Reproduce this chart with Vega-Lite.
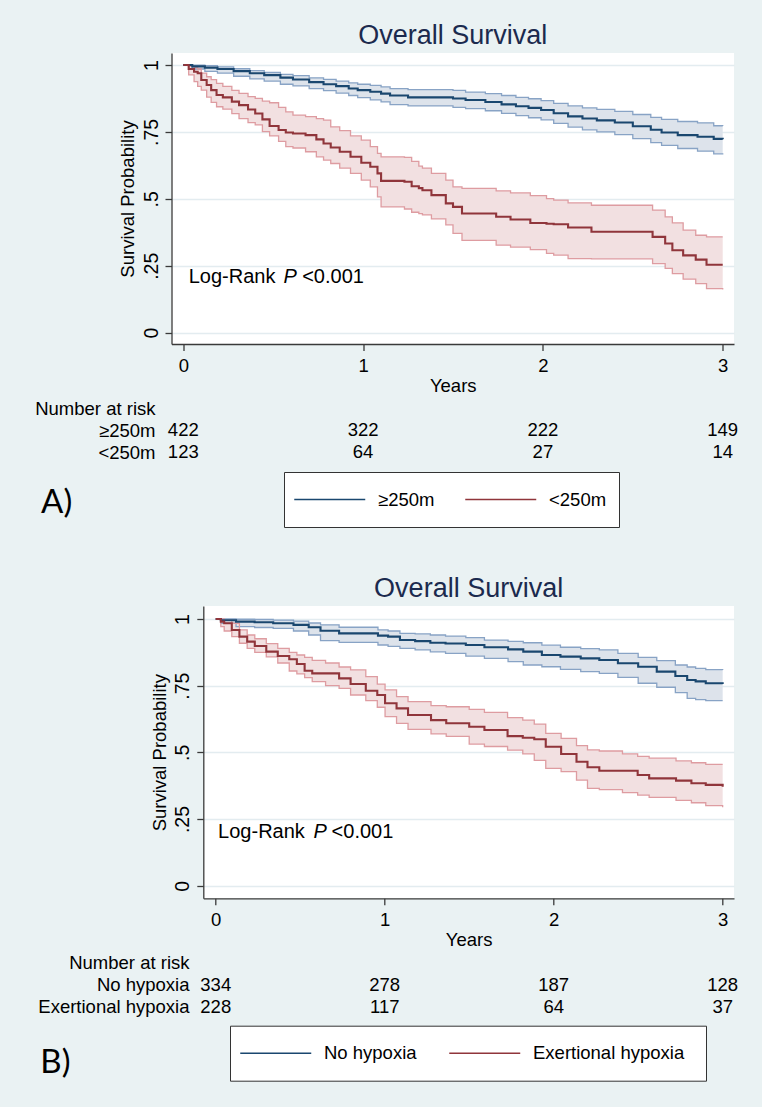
{
  "$schema": "https://vega.github.io/schema/vega-lite/v6.json",
  "background": "#EAF2F3",
  "autosize": {"type": "none"},
  "padding": {"left": 171.5, "top": 53, "right": 590.5, "bottom": 1054},
  "config": {
    "font": "Liberation Sans",
    "axis": {"labelFont": "Liberation Sans", "titleFont": "Liberation Sans", "labelColor": "black", "titleColor": "black", "titleFontWeight": "normal", "labelFontSize": 18.5, "titleFontSize": 18.5, "domainColor": "#3a3a3a", "tickColor": "#3a3a3a", "domainWidth": 1.3, "tickWidth": 1.3, "labelFlush": false, "labelOverlap": false},
    "legend": {"labelFont": "Liberation Sans", "labelFontSize": 18.5, "labelColor": "black"},
    "title": {"font": "Liberation Sans", "fontWeight": "normal", "fontSize": 27, "color": "#1b2a4e"}
  },
  "datasets": {
    "kmA": [
      {"g":"≥250m","t":0,"s":1,"lo":1,"hi":1},{"g":"≥250m","t":0.05,"s":0.995,"lo":0.985,"hi":0.999},{"g":"≥250m","t":0.12,"s":0.99,"lo":0.976,"hi":0.998},{"g":"≥250m","t":0.19,"s":0.985,"lo":0.97,"hi":0.993},{"g":"≥250m","t":0.28,"s":0.977,"lo":0.958,"hi":0.986},{"g":"≥250m","t":0.37,"s":0.969,"lo":0.948,"hi":0.979},{"g":"≥250m","t":0.45,"s":0.962,"lo":0.94,"hi":0.972},{"g":"≥250m","t":0.54,"s":0.953,"lo":0.928,"hi":0.965},{"g":"≥250m","t":0.61,"s":0.946,"lo":0.922,"hi":0.96},{"g":"≥250m","t":0.7,"s":0.936,"lo":0.912,"hi":0.952},{"g":"≥250m","t":0.78,"s":0.928,"lo":0.904,"hi":0.946},{"g":"≥250m","t":0.85,"s":0.921,"lo":0.895,"hi":0.94},{"g":"≥250m","t":0.92,"s":0.912,"lo":0.886,"hi":0.933},{"g":"≥250m","t":0.97,"s":0.906,"lo":0.878,"hi":0.928},{"g":"≥250m","t":1.04,"s":0.9,"lo":0.87,"hi":0.924},{"g":"≥250m","t":1.1,"s":0.893,"lo":0.862,"hi":0.918},{"g":"≥250m","t":1.15,"s":0.886,"lo":0.852,"hi":0.912},{"g":"≥250m","t":1.25,"s":0.879,"lo":0.847,"hi":0.908},{"g":"≥250m","t":1.5,"s":0.875,"lo":0.842,"hi":0.905},{"g":"≥250m","t":1.57,"s":0.869,"lo":0.837,"hi":0.899},{"g":"≥250m","t":1.68,"s":0.862,"lo":0.829,"hi":0.893},{"g":"≥250m","t":1.77,"s":0.853,"lo":0.819,"hi":0.886},{"g":"≥250m","t":1.85,"s":0.846,"lo":0.811,"hi":0.879},{"g":"≥250m","t":1.92,"s":0.84,"lo":0.803,"hi":0.874},{"g":"≥250m","t":1.99,"s":0.832,"lo":0.795,"hi":0.867},{"g":"≥250m","t":2.06,"s":0.82,"lo":0.782,"hi":0.857},{"g":"≥250m","t":2.14,"s":0.808,"lo":0.768,"hi":0.847},{"g":"≥250m","t":2.22,"s":0.8,"lo":0.758,"hi":0.84},{"g":"≥250m","t":2.3,"s":0.793,"lo":0.75,"hi":0.834},{"g":"≥250m","t":2.4,"s":0.785,"lo":0.74,"hi":0.827},{"g":"≥250m","t":2.5,"s":0.771,"lo":0.725,"hi":0.815},{"g":"≥250m","t":2.6,"s":0.758,"lo":0.71,"hi":0.804},{"g":"≥250m","t":2.66,"s":0.748,"lo":0.7,"hi":0.797},{"g":"≥250m","t":2.75,"s":0.738,"lo":0.688,"hi":0.789},{"g":"≥250m","t":2.86,"s":0.732,"lo":0.678,"hi":0.784},{"g":"≥250m","t":2.95,"s":0.724,"lo":0.668,"hi":0.773},{"g":"≥250m","t":3,"s":0.723,"lo":0.666,"hi":0.772},
      {"g":"<250m","t":0,"s":1,"lo":1,"hi":1},{"g":"<250m","t":0.03,"s":0.985,"lo":0.963,"hi":0.995},{"g":"<250m","t":0.06,"s":0.975,"lo":0.938,"hi":0.99},{"g":"<250m","t":0.08,"s":0.969,"lo":0.92,"hi":0.985},{"g":"<250m","t":0.1,"s":0.944,"lo":0.906,"hi":0.97},{"g":"<250m","t":0.13,"s":0.925,"lo":0.88,"hi":0.956},{"g":"<250m","t":0.155,"s":0.906,"lo":0.86,"hi":0.945},{"g":"<250m","t":0.185,"s":0.888,"lo":0.844,"hi":0.931},{"g":"<250m","t":0.22,"s":0.879,"lo":0.835,"hi":0.92},{"g":"<250m","t":0.27,"s":0.863,"lo":0.818,"hi":0.905},{"g":"<250m","t":0.31,"s":0.85,"lo":0.8,"hi":0.894},{"g":"<250m","t":0.36,"s":0.834,"lo":0.785,"hi":0.882},{"g":"<250m","t":0.4,"s":0.819,"lo":0.776,"hi":0.875},{"g":"<250m","t":0.44,"s":0.797,"lo":0.751,"hi":0.865},{"g":"<250m","t":0.48,"s":0.772,"lo":0.735,"hi":0.859},{"g":"<250m","t":0.53,"s":0.757,"lo":0.715,"hi":0.842},{"g":"<250m","t":0.57,"s":0.748,"lo":0.695,"hi":0.825},{"g":"<250m","t":0.61,"s":0.744,"lo":0.69,"hi":0.813},{"g":"<250m","t":0.68,"s":0.738,"lo":0.676,"hi":0.807},{"g":"<250m","t":0.74,"s":0.722,"lo":0.657,"hi":0.8},{"g":"<250m","t":0.78,"s":0.707,"lo":0.645,"hi":0.794},{"g":"<250m","t":0.82,"s":0.692,"lo":0.632,"hi":0.769},{"g":"<250m","t":0.87,"s":0.676,"lo":0.615,"hi":0.755},{"g":"<250m","t":0.93,"s":0.657,"lo":0.595,"hi":0.735},{"g":"<250m","t":0.99,"s":0.635,"lo":0.57,"hi":0.719},{"g":"<250m","t":1.04,"s":0.62,"lo":0.545,"hi":0.695},{"g":"<250m","t":1.08,"s":0.595,"lo":0.507,"hi":0.67},{"g":"<250m","t":1.1,"s":0.567,"lo":0.47,"hi":0.657},{"g":"<250m","t":1.23,"s":0.564,"lo":0.462,"hi":0.655},{"g":"<250m","t":1.27,"s":0.547,"lo":0.45,"hi":0.64},{"g":"<250m","t":1.31,"s":0.54,"lo":0.445,"hi":0.622},{"g":"<250m","t":1.33,"s":0.532,"lo":0.44,"hi":0.615},{"g":"<250m","t":1.38,"s":0.514,"lo":0.425,"hi":0.595},{"g":"<250m","t":1.46,"s":0.483,"lo":0.403,"hi":0.57},{"g":"<250m","t":1.5,"s":0.47,"lo":0.371,"hi":0.545},{"g":"<250m","t":1.55,"s":0.445,"lo":0.345,"hi":0.539},{"g":"<250m","t":1.74,"s":0.433,"lo":0.327,"hi":0.53},{"g":"<250m","t":1.82,"s":0.423,"lo":0.32,"hi":0.522},{"g":"<250m","t":1.93,"s":0.41,"lo":0.31,"hi":0.512},{"g":"<250m","t":2.02,"s":0.407,"lo":0.296,"hi":0.501},{"g":"<250m","t":2.06,"s":0.405,"lo":0.29,"hi":0.495},{"g":"<250m","t":2.14,"s":0.393,"lo":0.277,"hi":0.485},{"g":"<250m","t":2.27,"s":0.377,"lo":0.276,"hi":0.476},{"g":"<250m","t":2.61,"s":0.358,"lo":0.258,"hi":0.458},{"g":"<250m","t":2.68,"s":0.333,"lo":0.24,"hi":0.433},{"g":"<250m","t":2.72,"s":0.308,"lo":0.221,"hi":0.41},{"g":"<250m","t":2.78,"s":0.289,"lo":0.2,"hi":0.383},{"g":"<250m","t":2.85,"s":0.273,"lo":0.183,"hi":0.364},{"g":"<250m","t":2.91,"s":0.254,"lo":0.165,"hi":0.358},{"g":"<250m","t":3,"s":0.254,"lo":0.161,"hi":0.358}
    ],
    "kmB": [
      {"g":"No hypoxia","t":0,"s":1,"lo":1,"hi":1},{"g":"No hypoxia","t":0.03,"s":0.995,"lo":0.984,"hi":1},{"g":"No hypoxia","t":0.12,"s":0.99,"lo":0.971,"hi":0.999},{"g":"No hypoxia","t":0.23,"s":0.988,"lo":0.968,"hi":0.998},{"g":"No hypoxia","t":0.34,"s":0.984,"lo":0.965,"hi":0.996},{"g":"No hypoxia","t":0.46,"s":0.978,"lo":0.955,"hi":0.992},{"g":"No hypoxia","t":0.55,"s":0.969,"lo":0.94,"hi":0.985},{"g":"No hypoxia","t":0.62,"s":0.956,"lo":0.919,"hi":0.978},{"g":"No hypoxia","t":0.73,"s":0.946,"lo":0.912,"hi":0.969},{"g":"No hypoxia","t":0.96,"s":0.9375,"lo":0.9025,"hi":0.959},{"g":"No hypoxia","t":1.02,"s":0.934,"lo":0.897,"hi":0.955},{"g":"No hypoxia","t":1.09,"s":0.921,"lo":0.89,"hi":0.946},{"g":"No hypoxia","t":1.18,"s":0.917,"lo":0.884,"hi":0.944},{"g":"No hypoxia","t":1.27,"s":0.911,"lo":0.877,"hi":0.94},{"g":"No hypoxia","t":1.36,"s":0.908,"lo":0.871,"hi":0.936},{"g":"No hypoxia","t":1.48,"s":0.9025,"lo":0.861,"hi":0.93},{"g":"No hypoxia","t":1.59,"s":0.894,"lo":0.8525,"hi":0.921},{"g":"No hypoxia","t":1.73,"s":0.886,"lo":0.84,"hi":0.916},{"g":"No hypoxia","t":1.82,"s":0.8775,"lo":0.8275,"hi":0.911},{"g":"No hypoxia","t":1.93,"s":0.865,"lo":0.821,"hi":0.902},{"g":"No hypoxia","t":2.04,"s":0.859,"lo":0.811,"hi":0.894},{"g":"No hypoxia","t":2.16,"s":0.8525,"lo":0.803,"hi":0.889},{"g":"No hypoxia","t":2.27,"s":0.846,"lo":0.796,"hi":0.884},{"g":"No hypoxia","t":2.38,"s":0.834,"lo":0.781,"hi":0.871},{"g":"No hypoxia","t":2.5,"s":0.821,"lo":0.759,"hi":0.856},{"g":"No hypoxia","t":2.61,"s":0.8025,"lo":0.744,"hi":0.844},{"g":"No hypoxia","t":2.72,"s":0.786,"lo":0.724,"hi":0.8275},{"g":"No hypoxia","t":2.79,"s":0.771,"lo":0.7025,"hi":0.82},{"g":"No hypoxia","t":2.84,"s":0.766,"lo":0.698,"hi":0.815},{"g":"No hypoxia","t":2.9,"s":0.759,"lo":0.694,"hi":0.81},{"g":"No hypoxia","t":3,"s":0.756,"lo":0.694,"hi":0.809},
      {"g":"Exertional hypoxia","t":0,"s":1,"lo":1,"hi":1},{"g":"Exertional hypoxia","t":0.03,"s":0.99,"lo":0.971,"hi":1},{"g":"Exertional hypoxia","t":0.05,"s":0.984,"lo":0.955,"hi":0.995},{"g":"Exertional hypoxia","t":0.095,"s":0.959,"lo":0.934,"hi":0.984},{"g":"Exertional hypoxia","t":0.14,"s":0.934,"lo":0.909,"hi":0.959},{"g":"Exertional hypoxia","t":0.186,"s":0.915,"lo":0.89,"hi":0.94},{"g":"Exertional hypoxia","t":0.231,"s":0.899,"lo":0.875,"hi":0.926},{"g":"Exertional hypoxia","t":0.299,"s":0.8775,"lo":0.858,"hi":0.908},{"g":"Exertional hypoxia","t":0.367,"s":0.861,"lo":0.835,"hi":0.89},{"g":"Exertional hypoxia","t":0.435,"s":0.849,"lo":0.805,"hi":0.875},{"g":"Exertional hypoxia","t":0.48,"s":0.831,"lo":0.794,"hi":0.865},{"g":"Exertional hypoxia","t":0.526,"s":0.806,"lo":0.78,"hi":0.856},{"g":"Exertional hypoxia","t":0.571,"s":0.796,"lo":0.765,"hi":0.845},{"g":"Exertional hypoxia","t":0.65,"s":0.796,"lo":0.75,"hi":0.835},{"g":"Exertional hypoxia","t":0.73,"s":0.7775,"lo":0.74,"hi":0.82},{"g":"Exertional hypoxia","t":0.798,"s":0.756,"lo":0.715,"hi":0.809},{"g":"Exertional hypoxia","t":0.888,"s":0.731,"lo":0.694,"hi":0.784},{"g":"Exertional hypoxia","t":0.956,"s":0.715,"lo":0.669,"hi":0.756},{"g":"Exertional hypoxia","t":1.002,"s":0.684,"lo":0.634,"hi":0.734},{"g":"Exertional hypoxia","t":1.07,"s":0.665,"lo":0.609,"hi":0.709},{"g":"Exertional hypoxia","t":1.138,"s":0.64,"lo":0.586,"hi":0.69},{"g":"Exertional hypoxia","t":1.274,"s":0.621,"lo":0.569,"hi":0.675},{"g":"Exertional hypoxia","t":1.364,"s":0.609,"lo":0.56,"hi":0.671},{"g":"Exertional hypoxia","t":1.5,"s":0.596,"lo":0.531,"hi":0.661},{"g":"Exertional hypoxia","t":1.59,"s":0.584,"lo":0.522,"hi":0.65},{"g":"Exertional hypoxia","t":1.727,"s":0.561,"lo":0.508,"hi":0.63},{"g":"Exertional hypoxia","t":1.817,"s":0.555,"lo":0.494,"hi":0.621},{"g":"Exertional hypoxia","t":1.885,"s":0.549,"lo":0.47,"hi":0.606},{"g":"Exertional hypoxia","t":1.953,"s":0.521,"lo":0.44,"hi":0.571},{"g":"Exertional hypoxia","t":2.044,"s":0.494,"lo":0.4275,"hi":0.5525},{"g":"Exertional hypoxia","t":2.135,"s":0.465,"lo":0.396,"hi":0.525},{"g":"Exertional hypoxia","t":2.2,"s":0.444,"lo":0.365,"hi":0.509},{"g":"Exertional hypoxia","t":2.27,"s":0.431,"lo":0.36,"hi":0.505},{"g":"Exertional hypoxia","t":2.407,"s":0.431,"lo":0.349,"hi":0.494},{"g":"Exertional hypoxia","t":2.497,"s":0.415,"lo":0.34,"hi":0.485},{"g":"Exertional hypoxia","t":2.565,"s":0.4025,"lo":0.331,"hi":0.478},{"g":"Exertional hypoxia","t":2.724,"s":0.394,"lo":0.32,"hi":0.468},{"g":"Exertional hypoxia","t":2.815,"s":0.384,"lo":0.311,"hi":0.461},{"g":"Exertional hypoxia","t":2.9,"s":0.378,"lo":0.3,"hi":0.455},{"g":"Exertional hypoxia","t":3,"s":0.371,"lo":0.294,"hi":0.455}
    ],
    "riskA": [
      {"g":"≥250m","t":0,"n":422},{"g":"≥250m","t":1,"n":322},{"g":"≥250m","t":2,"n":222},{"g":"≥250m","t":3,"n":149},
      {"g":"<250m","t":0,"n":123},{"g":"<250m","t":1,"n":64},{"g":"<250m","t":2,"n":27},{"g":"<250m","t":3,"n":14}
    ],
    "riskB": [
      {"g":"No hypoxia","t":0,"n":334},{"g":"No hypoxia","t":1,"n":278},{"g":"No hypoxia","t":2,"n":187},{"g":"No hypoxia","t":3,"n":128},
      {"g":"Exertional hypoxia","t":0,"n":228},{"g":"Exertional hypoxia","t":1,"n":117},{"g":"Exertional hypoxia","t":2,"n":64},{"g":"Exertional hypoxia","t":3,"n":37}
    ]
  },
  "bounds": "flush",
  "spacing": 553,
  "resolve": {"scale": {"x": "independent", "y": "independent", "color": "independent"}, "legend": {"color": "independent"}, "axis": {"x": "independent", "y": "independent"}},
  "vconcat": [
    {
      "bounds": "flush",
      "spacing": 53.3,
      "resolve": {"scale": {"x": "independent", "y": "independent", "color": "independent"}},
      "vconcat": [
        {
          "width": 562.5,
          "height": 291,
          "title": {"text": "Overall Survival", "frame": "group", "anchor": "middle", "baseline": "alphabetic", "offset": -18.3},
          "view": {"fill": "white", "stroke": null},
          "data": {"name": "kmA"},
          "layer": [
            {
              "transform": [{"filter": {"field": "g", "equal": "≥250m"}}],
              "mark": {"type": "area", "interpolate": "step-after", "fill": "#dde3eb"},
              "encoding": {
                "x": {"field": "t", "type": "quantitative", "title": "Years",
                  "scale": {"domain": [-0.0656, 3.0628], "nice": false, "zero": false},
                  "axis": {"values": [0, 1, 2, 3], "format": "d", "grid": false, "tickSize": 6.5, "labelBaseline": "alphabetic", "labelPadding": 20.5, "titleBaseline": "alphabetic", "titleY": 47.5}},
                "y": {"field": "hi", "type": "quantitative", "title": "Survival Probability",
                  "scale": {"domain": [-0.0422, 1.0448], "nice": false, "zero": false},
                  "axis": {"values": [0, 0.25, 0.5, 0.75, 1], "labelExpr": "datum.value == 0 ? '0' : datum.value == 1 ? '1' : replace(format(datum.value, '.2~f'), '0.', '.')", "labelFontSize": 19.5, "labelAngle": -90, "labelAlign": "center", "labelBaseline": "alphabetic", "labelPadding": 7.5, "tickSize": 6.5, "grid": true, "gridColor": "#e3ecf0", "gridWidth": 1.5, "titleAngle": -90, "titleAlign": "center", "titleBaseline": "alphabetic", "titleX": -38, "titleY": 145.5}},
                "y2": {"field": "lo"}
              }
            },
            {
              "transform": [{"filter": {"field": "g", "equal": "<250m"}}],
              "mark": {"type": "area", "interpolate": "step-after", "fill": "#f2e0e1"},
              "encoding": {"x": {"field": "t", "type": "quantitative", "title": "Years"}, "y": {"field": "hi", "type": "quantitative", "title": "Survival Probability"}, "y2": {"field": "lo"}}
            },
            {
              "transform": [{"filter": {"field": "g", "equal": "≥250m"}}],
              "mark": {"type": "line", "interpolate": "step-after", "strokeWidth": 1.3, "stroke": "#88a3c5"},
              "encoding": {"x": {"field": "t", "type": "quantitative", "title": "Years"}, "y": {"field": "hi", "type": "quantitative", "title": "Survival Probability"}}
            },
            {
              "transform": [{"filter": {"field": "g", "equal": "≥250m"}}],
              "mark": {"type": "line", "interpolate": "step-after", "strokeWidth": 1.3, "stroke": "#88a3c5"},
              "encoding": {"x": {"field": "t", "type": "quantitative", "title": "Years"}, "y": {"field": "lo", "type": "quantitative", "title": "Survival Probability"}}
            },
            {
              "transform": [{"filter": {"field": "g", "equal": "<250m"}}],
              "mark": {"type": "line", "interpolate": "step-after", "strokeWidth": 1.3, "stroke": "#de9ca1"},
              "encoding": {"x": {"field": "t", "type": "quantitative", "title": "Years"}, "y": {"field": "hi", "type": "quantitative", "title": "Survival Probability"}}
            },
            {
              "transform": [{"filter": {"field": "g", "equal": "<250m"}}],
              "mark": {"type": "line", "interpolate": "step-after", "strokeWidth": 1.3, "stroke": "#de9ca1"},
              "encoding": {"x": {"field": "t", "type": "quantitative", "title": "Years"}, "y": {"field": "lo", "type": "quantitative", "title": "Survival Probability"}}
            },
            {
              "mark": {"type": "line", "interpolate": "step-after", "strokeWidth": 2.1},
              "encoding": {
                "x": {"field": "t", "type": "quantitative", "title": "Years"},
                "y": {"field": "s", "type": "quantitative", "title": "Survival Probability"},
                "color": {"field": "g", "type": "nominal", "scale": {"domain": ["≥250m", "<250m"], "range": ["#1A476F", "#90353B"]},
                  "legend": {"orient": "none", "legendX": 112.5, "legendY": 419, "direction": "horizontal", "title": ".", "titleOrient": "right", "titleColor": "white", "titleFontSize": 6, "titlePadding": 1.5, "fillColor": "white", "strokeColor": "#333333", "padding": 9, "clipHeight": 37, "symbolType": "M-1,0H3", "symbolSize": 1260, "symbolStrokeWidth": 1.6, "labelOffset": 47, "columnPadding": 29, "labelLimit": 400}}
              }
            },
            {
              "data": {"values": [{"txt": "Log-Rank"}]},
              "mark": {"type": "text", "align": "left", "baseline": "alphabetic", "fontSize": 20, "color": "black"},
              "encoding": {"x": {"datum": 0.03, "type": "quantitative"}, "y": {"datum": 0.187, "type": "quantitative"}, "text": {"field": "txt"}}
            },
            {
              "data": {"values": [{"txt": "P"}]},
              "mark": {"type": "text", "align": "left", "baseline": "alphabetic", "fontSize": 20, "fontStyle": "italic", "color": "black", "dx": 94.9},
              "encoding": {"x": {"datum": 0.03, "type": "quantitative"}, "y": {"datum": 0.187, "type": "quantitative"}, "text": {"field": "txt"}}
            },
            {
              "data": {"values": [{"txt": "<0.001"}]},
              "mark": {"type": "text", "align": "left", "baseline": "alphabetic", "fontSize": 20, "color": "black", "dx": 113.5},
              "encoding": {"x": {"datum": 0.03, "type": "quantitative"}, "y": {"datum": 0.187, "type": "quantitative"}, "text": {"field": "txt"}}
            }
          ]
        },
        {
          "width": 562.5,
          "height": 66,
          "view": {"fill": null, "stroke": null},
          "data": {"name": "riskA"},
          "layer": [
            {
              "mark": {"type": "text", "fontSize": 18.5, "color": "black", "baseline": "middle"},
              "encoding": {
                "x": {"field": "t", "type": "quantitative", "scale": {"domain": [-0.0656, 3.0628], "nice": false, "zero": false}, "axis": null},
                "y": {"field": "g", "type": "nominal", "scale": {"type": "point", "domain": ["Number at risk", "≥250m", "<250m"], "padding": 0.5},
                  "axis": {"domain": false, "ticks": false, "grid": false, "title": null, "labelPadding": 16.5, "labelBaseline": "middle"}},
                "text": {"field": "n"}
              }
            },
            {
              "data": {"values": [{"txt": "A)"}]},
              "mark": {"type": "text", "align": "left", "baseline": "alphabetic", "fontSize": 33, "font": "Lato", "color": "black", "dy": 60.5},
              "encoding": {"x": {"datum": -0.791, "type": "quantitative"}, "y": {"datum": "<250m", "type": "nominal"}, "text": {"field": "txt"}}
            }
          ]
        }
      ]
    },
    {
      "bounds": "flush",
      "spacing": 30.8,
      "resolve": {"scale": {"x": "independent", "y": "independent", "color": "independent"}},
      "hconcat": [
        {
          "width": 1,
          "height": 1,
          "view": {"fill": null, "stroke": null},
          "data": {"values": [{"txt": ""}]},
          "mark": {"type": "text"},
          "encoding": {"text": {"field": "txt"}}
        },
        {
          "bounds": "flush",
          "spacing": 52.7,
          "resolve": {"scale": {"x": "independent", "y": "independent", "color": "independent"}},
          "vconcat": [
            {
              "width": 530.7,
              "height": 292.3,
              "title": {"text": "Overall Survival", "frame": "group", "anchor": "middle", "baseline": "alphabetic", "offset": -18.3},
              "view": {"fill": "white", "stroke": null},
              "data": {"name": "kmB"},
              "layer": [
                {
                  "transform": [{"filter": {"field": "g", "equal": "No hypoxia"}}],
                  "mark": {"type": "area", "interpolate": "step-after", "fill": "#dde3eb"},
                  "encoding": {
                    "x": {"field": "t", "type": "quantitative", "title": "Years",
                      "scale": {"domain": [-0.0737, 3.0671], "nice": false, "zero": false},
                      "axis": {"values": [0, 1, 2, 3], "format": "d", "grid": false, "tickSize": 6.5, "labelBaseline": "alphabetic", "labelPadding": 20.5, "titleBaseline": "alphabetic", "titleY": 47.5}},
                    "y": {"field": "hi", "type": "quantitative", "title": "Survival Probability",
                      "scale": {"domain": [-0.0472, 1.0487], "nice": false, "zero": false},
                      "axis": {"values": [0, 0.25, 0.5, 0.75, 1], "labelExpr": "datum.value == 0 ? '0' : datum.value == 1 ? '1' : replace(format(datum.value, '.2~f'), '0.', '.')", "labelFontSize": 19.5, "labelAngle": -90, "labelAlign": "center", "labelBaseline": "alphabetic", "labelPadding": 8.5, "tickSize": 6.5, "grid": true, "gridColor": "#e3ecf0", "gridWidth": 1.5, "titleAngle": -90, "titleAlign": "center", "titleBaseline": "alphabetic", "titleX": -38, "titleY": 146.2}},
                    "y2": {"field": "lo"}
                  }
                },
                {
                  "transform": [{"filter": {"field": "g", "equal": "Exertional hypoxia"}}],
                  "mark": {"type": "area", "interpolate": "step-after", "fill": "#f2e0e1"},
                  "encoding": {"x": {"field": "t", "type": "quantitative", "title": "Years"}, "y": {"field": "hi", "type": "quantitative", "title": "Survival Probability"}, "y2": {"field": "lo"}}
                },
                {
                  "transform": [{"filter": {"field": "g", "equal": "No hypoxia"}}],
                  "mark": {"type": "line", "interpolate": "step-after", "strokeWidth": 1.3, "stroke": "#88a3c5"},
                  "encoding": {"x": {"field": "t", "type": "quantitative", "title": "Years"}, "y": {"field": "hi", "type": "quantitative", "title": "Survival Probability"}}
                },
                {
                  "transform": [{"filter": {"field": "g", "equal": "No hypoxia"}}],
                  "mark": {"type": "line", "interpolate": "step-after", "strokeWidth": 1.3, "stroke": "#88a3c5"},
                  "encoding": {"x": {"field": "t", "type": "quantitative", "title": "Years"}, "y": {"field": "lo", "type": "quantitative", "title": "Survival Probability"}}
                },
                {
                  "transform": [{"filter": {"field": "g", "equal": "Exertional hypoxia"}}],
                  "mark": {"type": "line", "interpolate": "step-after", "strokeWidth": 1.3, "stroke": "#de9ca1"},
                  "encoding": {"x": {"field": "t", "type": "quantitative", "title": "Years"}, "y": {"field": "hi", "type": "quantitative", "title": "Survival Probability"}}
                },
                {
                  "transform": [{"filter": {"field": "g", "equal": "Exertional hypoxia"}}],
                  "mark": {"type": "line", "interpolate": "step-after", "strokeWidth": 1.3, "stroke": "#de9ca1"},
                  "encoding": {"x": {"field": "t", "type": "quantitative", "title": "Years"}, "y": {"field": "lo", "type": "quantitative", "title": "Survival Probability"}}
                },
                {
                  "mark": {"type": "line", "interpolate": "step-after", "strokeWidth": 2.1},
                  "encoding": {
                    "x": {"field": "t", "type": "quantitative", "title": "Years"},
                    "y": {"field": "s", "type": "quantitative", "title": "Survival Probability"},
                    "color": {"field": "g", "type": "nominal", "scale": {"domain": ["No hypoxia", "Exertional hypoxia"], "range": ["#1A476F", "#90353B"]},
                      "legend": {"orient": "none", "legendX": 26.7, "legendY": 419.7, "direction": "horizontal", "title": ".", "titleOrient": "right", "titleColor": "white", "titleFontSize": 6, "titlePadding": 11, "fillColor": "white", "strokeColor": "#333333", "padding": 9, "clipHeight": 37, "symbolType": "M-1,0H3", "symbolSize": 1260, "symbolStrokeWidth": 1.6, "labelOffset": 47, "columnPadding": 31, "labelLimit": 400}}
                  }
                },
                {
                  "data": {"values": [{"txt": "Log-Rank"}]},
                  "mark": {"type": "text", "align": "left", "baseline": "alphabetic", "fontSize": 20, "color": "black"},
                  "encoding": {"x": {"datum": 0.014, "type": "quantitative"}, "y": {"datum": 0.178, "type": "quantitative"}, "text": {"field": "txt"}}
                },
                {
                  "data": {"values": [{"txt": "P"}]},
                  "mark": {"type": "text", "align": "left", "baseline": "alphabetic", "fontSize": 20, "fontStyle": "italic", "color": "black", "dx": 95.5},
                  "encoding": {"x": {"datum": 0.014, "type": "quantitative"}, "y": {"datum": 0.178, "type": "quantitative"}, "text": {"field": "txt"}}
                },
                {
                  "data": {"values": [{"txt": "<0.001"}]},
                  "mark": {"type": "text", "align": "left", "baseline": "alphabetic", "fontSize": 20, "color": "black", "dx": 113.5},
                  "encoding": {"x": {"datum": 0.014, "type": "quantitative"}, "y": {"datum": 0.178, "type": "quantitative"}, "text": {"field": "txt"}}
                }
              ]
            },
            {
              "width": 530.7,
              "height": 66,
              "view": {"fill": null, "stroke": null},
              "data": {"name": "riskB"},
              "layer": [
                {
                  "mark": {"type": "text", "fontSize": 18.5, "color": "black", "baseline": "middle"},
                  "encoding": {
                    "x": {"field": "t", "type": "quantitative", "scale": {"domain": [-0.0737, 3.0671], "nice": false, "zero": false}, "axis": null},
                    "y": {"field": "g", "type": "nominal", "scale": {"type": "point", "domain": ["Number at risk", "No hypoxia", "Exertional hypoxia"], "padding": 0.5},
                      "axis": {"domain": false, "ticks": false, "grid": false, "title": null, "labelPadding": 14.3, "labelBaseline": "middle"}},
                    "text": {"field": "n"}
                  }
                },
                {
                  "data": {"values": [{"txt": "B)"}]},
                  "mark": {"type": "text", "align": "left", "baseline": "alphabetic", "fontSize": 33, "font": "Lato", "color": "black", "dy": 66},
                  "encoding": {"x": {"datum": -1.038, "type": "quantitative"}, "y": {"datum": "Exertional hypoxia", "type": "nominal"}, "text": {"field": "txt"}}
                }
              ]
            }
          ]
        }
      ]
    }
  ]
}
